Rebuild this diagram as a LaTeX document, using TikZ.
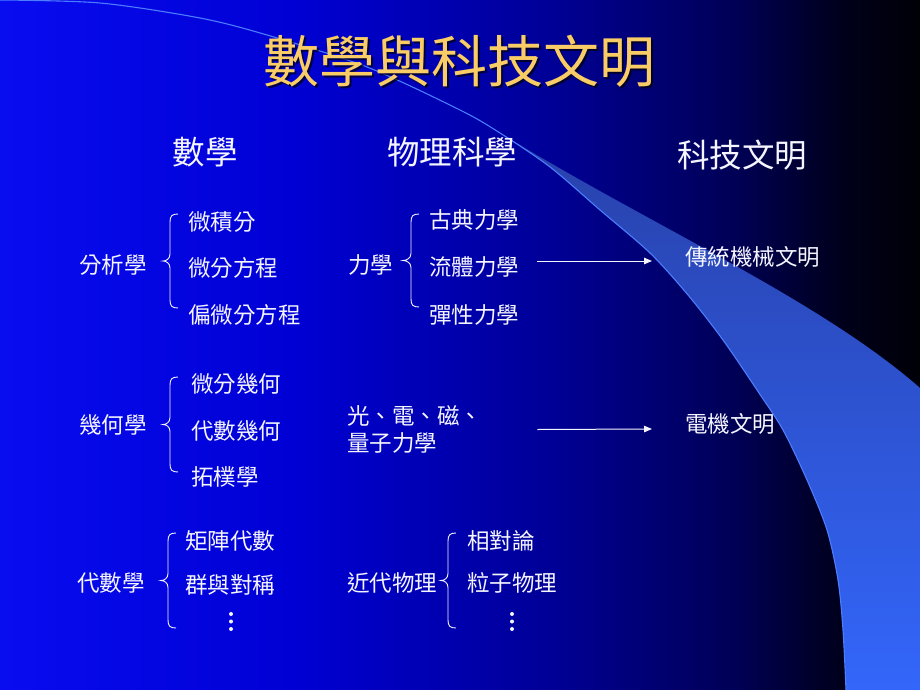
\documentclass[tikz,border=0pt]{standalone}
\usepackage{fontspec}
\newfontfamily\cjk{Noto Sans CJK TC}
\usetikzlibrary{arrows.meta}
\definecolor{bgA}{RGB}{8,12,240}
\definecolor{bgB}{RGB}{0,0,212}
\definecolor{bgC}{RGB}{0,0,150}
\definecolor{bgD}{RGB}{0,0,85}
\definecolor{bgE}{RGB}{0,0,25}
\definecolor{bgF}{RGB}{0,0,8}
\definecolor{swA}{RGB}{40,65,170}
\definecolor{swM}{RGB}{48,96,238}
\definecolor{swB}{RGB}{51,102,250}
\definecolor{swL}{RGB}{75,125,255}
\definecolor{gold}{RGB}{250,204,102}
\definecolor{txtc}{RGB}{245,245,255}
\pgfdeclarehorizontalshading{bgshade}{100bp}{color(0bp)=(bgA); color(25bp)=(bgA); color(41bp)=(bgB); color(55bp)=(bgC); color(65bp)=(bgD); color(71bp)=(bgE); color(75bp)=(bgF); color(100bp)=(bgF)}
\newcommand\cbrace[4]{%
  \draw[bracestyle] (#1+8,#2) .. controls (#1+2,#2) and (#1,#2+2) .. (#1,#2+8)
    -- (#1,{(#2+#3)/2-7}) .. controls (#1,{(#2+#3)/2-2}) and (#4+3,{(#2+#3)/2}) .. (#4,{(#2+#3)/2})
    .. controls (#4+3,{(#2+#3)/2}) and (#1,{(#2+#3)/2+2}) .. (#1,{(#2+#3)/2+7})
    -- (#1,#3-8) .. controls (#1,#3-2) and (#1+2,#3) .. (#1+8,#3);}
\tikzset{
  body/.style={font=\cjk\fontsize{22.5}{27}\selectfont, text=txtc, inner sep=0pt, anchor=west},
  head/.style={font=\cjk\fontsize{32.5}{36}\selectfont, text=txtc, inner sep=0pt},
  bracestyle/.style={draw=txtc, line width=0.9pt},
  arr/.style={draw=txtc, line width=1pt, -{Triangle[length=8pt,width=6.5pt]}},
  swline/.style={draw=swL, line width=1.1pt},
  dotc/.style={fill=txtc},
}
\begin{document}
\begin{tikzpicture}[x=1pt,y=-1pt]
\useasboundingbox (0,0) rectangle (920,690);
\shade[shading=bgshade] (0,0) rectangle (920,690);
% swoosh
\shade[top color=swA, middle color=swM, bottom color=swB]
  (500,133) .. controls (650,225) and (820,300) .. (920,388) -- (920,690) -- (846,690)
  -- plot[smooth] coordinates {(846,690) (843,630) (838,580) (827,530) (807,480) (783,430) (757,390) (723,340) (688,295) (650,253) (600,210) (550,167) (500,133)} -- cycle;
\draw[swline] plot[smooth] coordinates {(0,0) (100,3) (200,18) (267,35) (367,67) (460,110) (500,133) (550,167) (600,210) (650,253) (688,295) (723,340) (757,390) (783,430) (807,480) (827,530) (838,580) (843,630) (846,690)};
% title
\node[font=\cjk\fontsize{56}{60}\selectfont, text=black, opacity=0.65, inner sep=0pt] (tsh) at (461.5,63.5) {數學與科技文明};
\node[font=\cjk\fontsize{56}{60}\selectfont, text=gold, inner sep=0pt] (title) at (459,61) {數學與科技文明};
% headers
\node[head] (hm) at (205,152) {數學};
\node[head] (hp) at (452,152) {物理科學};
\node[head] (ht) at (742,155) {科技文明};
% analysis
\node[body] (a1) at (79,265) {分析學};
\node[body] (a11) at (188,222) {微積分};
\node[body] (a12) at (188,268) {微分方程};
\node[body] (a13) at (188,315) {偏微分方程};
\cbrace{170}{214}{308}{163}
% mechanics
\node[body] (m1) at (348,265) {力學};
\node[body] (m11) at (429,220) {古典力學};
\node[body] (m12) at (429,267) {流體力學};
\node[body] (m13) at (429,315) {彈性力學};
\cbrace{411}{214}{307}{403}
\node[body] (tr) at (685,257) {傳統機械文明};
\draw[arr] ([shift={(18,-6)}]m12.east) -- ([shift={(-33,4)}]tr.west);
% geometry
\node[body] (g1) at (79,425) {幾何學};
\node[body] (g11) at (191,384) {微分幾何};
\node[body] (g12) at (191,431) {代數幾何};
\node[body] (g13) at (191,477) {拓樸學};
\cbrace{170}{377}{472}{163}
% electro
\node[body, align=left] (em) at (347,429.5) {光、電、磁、\\量子力學};
\node[body] (et) at (685,424) {電機文明};
\draw[arr] ([xshift=55pt]em.east) -- ([shift={(-33,5)}]et.west);
% algebra
\node[body] (b1) at (77,583) {代數學};
\node[body] (b11) at (185,541) {矩陣代數};
\node[body] (b12) at (185,585) {群與對稱};
\cbrace{168}{533}{628}{161}
\fill[dotc] (231,614) circle (2) (231,621.5) circle (2) (231,629) circle (2);
% modern physics
\node[body] (p1) at (347,583) {近代物理};
\node[body] (p11) at (467,541) {相對論};
\node[body] (p12) at (467,583) {粒子物理};
\cbrace{448}{533}{628}{441}
\fill[dotc] (512,614) circle (2) (512,621.5) circle (2) (512,629) circle (2);
\end{tikzpicture}
\end{document}
